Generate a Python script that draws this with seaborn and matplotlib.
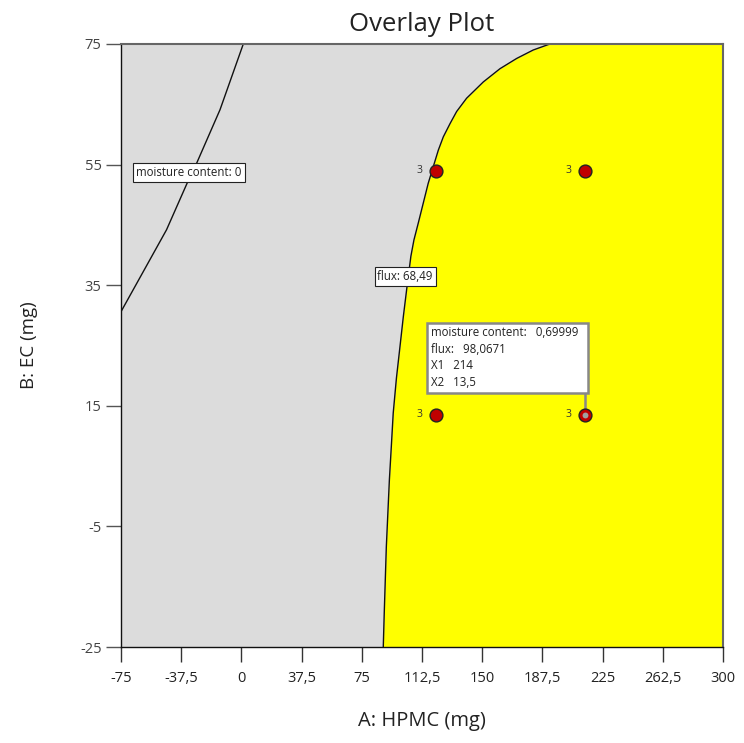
import matplotlib
matplotlib.use("Agg")
import matplotlib.pyplot as plt
from matplotlib.patches import Rectangle
import seaborn as sns
import pandas as pd

# Boundary of the flux constraint (flux = 68.49), HPMC vs EC
flux_x = [192.2, 181.8, 171.5, 161.1, 150.7, 140.3, 134.1, 130.0, 125.8, 122.7,
          119.6, 116.4, 113.3, 110.2, 107.5, 105.6, 103.3, 100.9, 98.8, 96.6,
          94.6, 93.4, 92.2, 90.3, 89.0, 88.4]
flux_y = [75.0, 74.0, 72.6, 70.9, 68.7, 66.0, 63.8, 61.8, 59.6, 57.4,
          54.7, 51.9, 48.6, 45.3, 42.5, 39.8, 35.0, 29.8, 24.8, 19.6,
          13.8, 8.2, 2.7, -8.4, -19.4, -25.0]

# Contour of moisture content = 0
mc_x = [-75.0, -46.6, -33.0, -27.9, -13.3, 1.2]
mc_y = [30.6, 44.2, 52.4, 55.2, 64.1, 75.0]

# Design points (each replicated 3 times)
pt_hpmc = [121, 214, 121, 214]
pt_ec = [54, 54, 13.5, 13.5]
pt_reps = [3, 3, 3, 3]

# Flagged optimum
flag_x, flag_y = 214, 13.5
flag_lines = ["moisture content:   0,69999", "flux:   98,0671", "X1   214", "X2   13,5"]

x_ticks = [-75, -37.5, 0, 37.5, 75, 112.5, 150, 187.5, 225, 262.5, 300]
y_ticks = [-25, -5, 15, 35, 55, 75]

sns.set_style("white")
plt.rcParams["font.family"] = ["Open Sans", "DejaVu Sans"]

fig = plt.figure(figsize=(7.44, 7.43), dpi=100)
ax = fig.add_axes([0.1626, 0.1292, 0.8091, 0.8116])
ax.set_facecolor("#dcdcdc")

# Feasible (yellow) region right of the flux boundary
ax.fill_betweenx(flux_y, flux_x, 300, color="#ffff00", linewidth=0, zorder=1)

flux_df = pd.DataFrame({"x": flux_x, "y": flux_y})
mc_df = pd.DataFrame({"x": mc_x, "y": mc_y})
sns.lineplot(data=flux_df, x="x", y="y", sort=False, color="#111111", lw=1.0,
             ax=ax, zorder=2)
sns.lineplot(data=mc_df, x="x", y="y", sort=False, color="#111111", lw=1.0,
             ax=ax, zorder=2)

# Contour labels
box = dict(boxstyle="square,pad=0.25", fc="white", ec="#222222", lw=0.8)
ax.text(-32.6, 53.7, "moisture content: 0", fontsize=8.3, ha="center", va="center",
        bbox=box, zorder=5, color="#222222")
ax.text(102, 36.4, "flux: 68,49", fontsize=8.3, ha="center", va="center",
        bbox=box, zorder=5, color="#222222")

# Design points
pts = pd.DataFrame({"HPMC": pt_hpmc, "EC": pt_ec})
sns.scatterplot(data=pts, x="HPMC", y="EC", s=85, color="#c00000",
                edgecolor="#222222", linewidth=1.0, ax=ax, zorder=6)
for x, y, r in zip(pt_hpmc, pt_ec, pt_reps):
    ax.annotate(str(r), (x, y), xytext=(-11.5, 0), textcoords="offset points",
                fontsize=7.5, ha="center", va="center", color="#333333", zorder=6)
ax.scatter([flag_x], [flag_y], s=18, color="#a0a0a0", zorder=7, linewidths=0)

# Flag with optimum values
box_left, box_right, box_top, box_bottom = 115.7, 216.0, 28.7, 17.1
ax.plot([flag_x, flag_x], [flag_y, box_bottom], color="#888888", lw=1.8, zorder=5)
ax.add_patch(Rectangle((box_left, box_bottom), box_right - box_left, box_top - box_bottom,
                       fc="white", ec="#888888", lw=1.8, zorder=8))
line_y = [27.1, 24.3, 21.6, 18.8]
for ty, txt in zip(line_y, flag_lines):
    ax.text(118.2, ty, txt, fontsize=8.3, ha="left", va="center", zorder=9,
            color="#222222")

ax.set_xlim(-75, 300)
ax.set_ylim(-25, 75)
ax.set_xticks(x_ticks)
ax.set_xticklabels([f"{t:g}".replace(".", ",") for t in x_ticks])
ax.set_yticks(y_ticks)
ax.set_yticklabels([str(t) for t in y_ticks])
ax.tick_params(axis="x", direction="out", length=11, width=1.0, color="#333333",
               labelsize=10.5, labelcolor="#222222", pad=6, bottom=True)
ax.tick_params(axis="y", direction="out", length=11, width=1.0, color="#555555",
               labelsize=10.5, labelcolor="#444444", pad=3, left=True)

for side in ["left", "bottom"]:
    ax.spines[side].set_color("#111111")
    ax.spines[side].set_linewidth(1.0)
for side in ["top", "right"]:
    ax.spines[side].set_color("#666666")
    ax.spines[side].set_linewidth(1.5)

ax.set_xlabel("A: HPMC (mg)", fontsize=14.5, color="#222222", labelpad=18)
ax.set_ylabel("B: EC (mg)", fontsize=13.5, color="#222222", labelpad=30)
ax.set_title("Overlay Plot", fontsize=18.5, color="#222222", pad=9)

fig.savefig("out.png", dpi=100, facecolor="white")
